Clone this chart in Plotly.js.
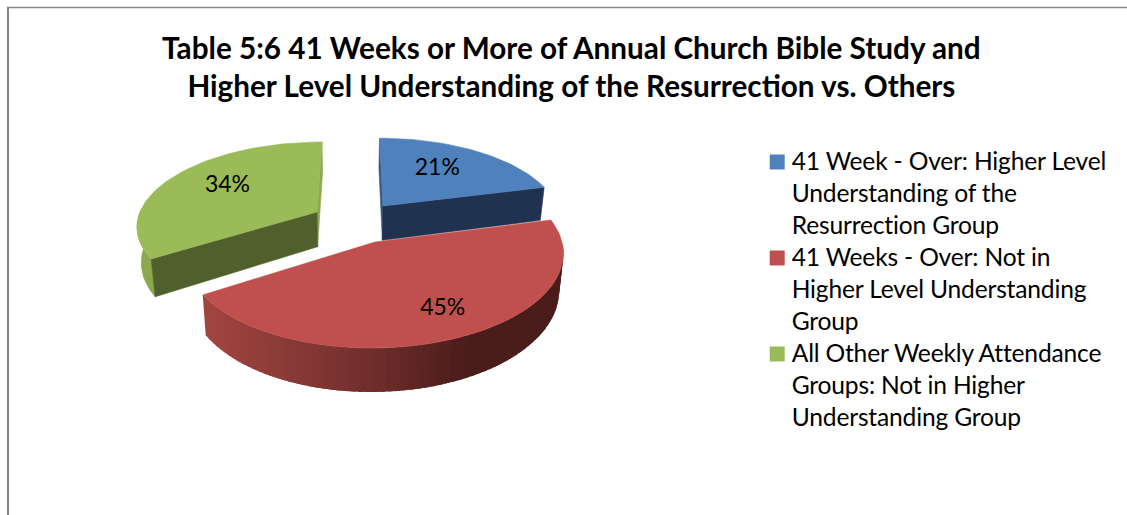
<!DOCTYPE html>
<html>
<head>
<meta charset="utf-8">
<script src="https://cdn.plot.ly/plotly-3.0.1.min.js"></script>
<style>
html,body{margin:0;padding:0;background:#fff;overflow:hidden}
.legendtext{letter-spacing:-.18px}
.legendsymbols{transform:translate(5.5px,-30px)}
</style>
</head>
<body>
<div id="chart" style="width:1127px;height:515px"></div>
<script>
// ---- data ----
const categories = [
  "41 Week - Over: Higher Level<br>Understanding of the<br>Resurrection Group",
  "41 Weeks - Over: Not in<br>Higher Level Understanding<br>Group",
  "All Other Weekly Attendance<br>Groups: Not in Higher<br>Understanding Group"
];
const values = [21, 45, 34];
const titleText = "Table 5:6 41 Weeks or More of Annual Church Bible Study and<br>Higher Level Understanding of the Resurrection vs. Others";

// ---- style: colours and the projection of each exploded slice ----
const topColors  = ["#4f81bd", "#c0504d", "#9bbb59"];
const cutColors  = ["#1f3350", "#7a2f2d", "#4f602c"];
const edgeColors = ["#35567f", "#7a2f2d", "#8ba84f"];
const view = [
  {ax:383, ay:206, S:173.6, R:78,   k:.15,  vx:-4,   lf:.609, ls:-3},
  {ax:375, ay:242, S:187,   R:91.4, k:.138, vx:3,    lf:.75,  ls:-3.5},
  {ax:317, ay:212, S:177,   R:80.5, k:.15,  vx:5.75, lf:.64,  ls:3.2}
];
const rad = d => d * Math.PI / 180;
function topPt(v, deg, f) {
  f = f === undefined ? 1 : f;
  const s = Math.sin(rad(deg)) * f, c = Math.cos(rad(deg)) * f, D = 1 + v.k * c;
  return [v.ax + (s * v.S + c * v.vx) / D, v.ay - c * v.R / D];
}
function lowPt(p) {
  return [p[0] + (350 - p[0]) * .02, p[1] + 33 + (p[1] - 187) * .068];
}
function arc(v, a, b) {
  const out = [], n = Math.max(2, Math.ceil(Math.abs(b - a) / 2));
  for (let i = 0; i <= n; i++) out.push(topPt(v, a + (b - a) * i / n));
  return out;
}
function poly(pts, color, w) {
  const xs = pts.map(p => p[0]), ys = pts.map(p => p[1]);
  xs.push(xs[0]); ys.push(ys[0]);
  return {x: xs, y: ys, type: "scatter", mode: "lines", fill: "toself", fillcolor: color,
          line: {color: color, width: w === undefined ? .6 : w}, hoverinfo: "skip", showlegend: false};
}
function mix(a, b, t) {
  return "rgb(" + a.map((c, i) => Math.round(c + (b[i] - c) * t)).join(",") + ")";
}

const total = values.reduce((a, b) => a + b, 0);
const start = [], end = [];
values.reduce((acc, val, i) => { start[i] = acc; end[i] = acc + val / total * 360; return end[i]; }, 0);

const traces = [];
// green slice
(function () {
  const i = 2, v = view[i], a = topPt(v, 0, 0);
  const e0 = topPt(v, end[i]), s0 = topPt(v, start[i]);
  traces.push(poly([e0, lowPt(e0), lowPt(a), a], edgeColors[i]));
  const outer = arc(v, start[i], 272);
  traces.push(poly(outer.concat(outer.map(lowPt).reverse()), edgeColors[i]));
  traces.push(poly([a, s0, lowPt(s0), lowPt(a)], cutColors[i]));
  traces.push(poly([a].concat(arc(v, start[i], end[i])), topColors[i]));
})();
// blue slice
(function () {
  const i = 0, v = view[i], a = topPt(v, 0, 0);
  const s0 = topPt(v, start[i]), e0 = topPt(v, end[i]);
  traces.push(poly([s0, lowPt(s0), lowPt(a), a], edgeColors[i]));
  traces.push(poly([a, e0, lowPt(e0), lowPt(a)], cutColors[i]));
  traces.push(poly([a].concat(arc(v, start[i], end[i])), topColors[i]));
})();
// red slice, with its shaded outer wall (each strip runs under the next, so no seams show)
(function () {
  const i = 1, v = view[i], a = topPt(v, 0, 0);
  const from = 92, to = end[i], step = 2;
  const L = [160, 68, 64], M = [112, 46, 44], Rr = [74, 28, 26];
  for (let d = to - step; d > from - step; d -= step) {
    const seg = arc(v, Math.max(d - 1.5, from), d + step);
    const t = Math.min(1, Math.max(0, (seg[seg.length - 1][0] - 209) / (460 - 209)));
    const col = t > .6 ? mix(M, Rr, (t - .6) / .4) : mix(L, M, t / .6);
    traces.unshift(poly(seg.concat(seg.map(lowPt).reverse()), col, 0));
  }
  traces.push(poly([a].concat(arc(v, start[i], end[i])), topColors[i]));
})();
// percentage labels
const labelPos = values.map((val, i) => topPt(view[i], (start[i] + end[i]) / 2 + view[i].ls, view[i].lf));
traces.push({
  x: labelPos.map(p => p[0]), y: labelPos.map(p => p[1]),
  text: values.map(val => Math.round(val / total * 100) + "%"),
  type: "scatter", mode: "text", textposition: "middle center",
  textfont: {family: "Lato, Carlito, sans-serif", size: 23, color: "#000"},
  hoverinfo: "skip", showlegend: false
});
// legend entries
categories.forEach((name, i) => traces.push({
  x: [null], y: [null], name: name, type: "scatter", mode: "markers",
  marker: {symbol: "square", size: 15, color: topColors[i]}, hoverinfo: "skip"
}));

const layout = {
  width: 1127, height: 515,
  margin: {l: 0, r: 0, t: 0, b: 0},
  paper_bgcolor: "#fff", plot_bgcolor: "#fff",
  font: {family: "Lato, Carlito, sans-serif", color: "#000"},
  title: {text: "<b>" + titleText.replace("<br>", "</b><br><b>") + "</b>",
          x: .507, xanchor: "center", y: .886, yref: "container", yanchor: "top",
          font: {family: "Lato, Carlito, sans-serif", size: 29.7, color: "#000"}},
  xaxis: {range: [0, 1127], visible: false, fixedrange: true},
  yaxis: {range: [515, 0], visible: false, fixedrange: true},
  showlegend: true,
  legend: {x: .667, xanchor: "left", y: .733, yanchor: "top", bgcolor: "rgba(0,0,0,0)",
           font: {family: "Lato, Carlito, sans-serif", size: 24.6, color: "#000"},
           tracegroupgap: 0, itemwidth: 30, itemclick: false, itemdoubleclick: false},
  shapes: [
    {type: "line", xref: "paper", yref: "paper", x0: 8/1127, x1: 8/1127, y0: 0, y1: 1-7/515, line: {color: "#868686", width: 2}},
    {type: "line", xref: "paper", yref: "paper", x0: 7/1127, x1: 1, y0: 1-7.5/515, y1: 1-7.5/515, line: {color: "#868686", width: 1.5}}
  ]
};
Plotly.newPlot("chart", traces, layout, {displayModeBar: false, staticPlot: true}).then(function () {
  // the reference has no gap between legend entries: each entry takes three 32px lines
  const items = document.querySelectorAll(".legend .traces");
  const m = /translate\(([^,]+),\s*([^)]+)\)/.exec(items[0].getAttribute("transform"));
  items.forEach((el, i) => el.setAttribute("transform",
    "translate(" + m[1] + "," + (parseFloat(m[2]) + i * 96) + ")"));
  const box = document.querySelector(".legend .scrollbox");
  if (box) box.removeAttribute("clip-path");
});
</script>
</body>
</html>
